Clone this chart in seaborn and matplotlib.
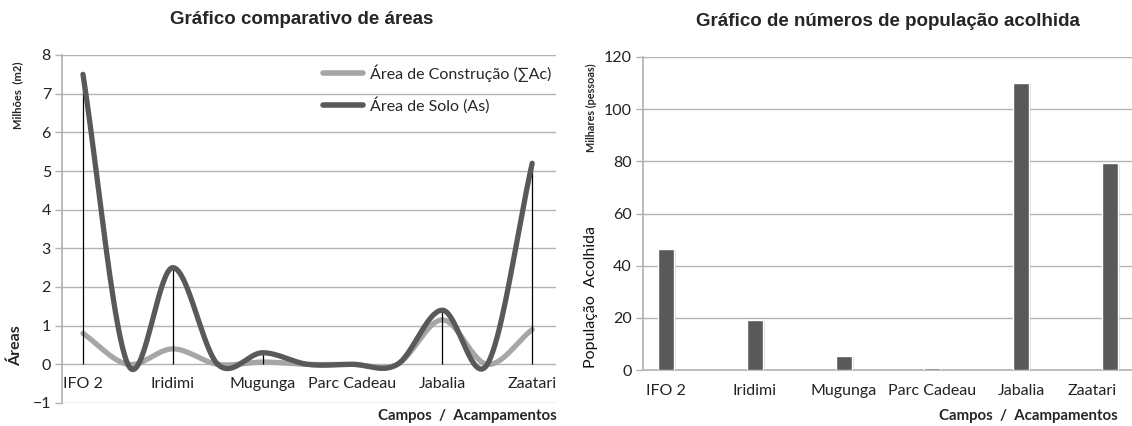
"""Gráficos comparativos: áreas dos campos e população acolhida."""

import numpy as np
import pandas as pd
import matplotlib
matplotlib.use("Agg")
import matplotlib.pyplot as plt
import matplotlib.patheffects as pe
import matplotlib.transforms as mtransforms
import seaborn as sns

# --- dados ---
# pontos da curva de áreas (os rótulos vazios são pontos intermédios a zero)
campos_pts = ["IFO 2", "", "Iridimi", "", "Mugunga", "", "Parc Cadeau", "", "Jabalia", "", "Zaatari"]
area_construcao = [0.8, 0.0, 0.4, 0.0, 0.06, 0.0, 0.0, 0.0, 1.15, 0.0, 0.9]
area_solo = [7.5, 0.0, 2.5, 0.0, 0.3, 0.0, 0.0, 0.0, 1.4, 0.0, 5.2]

campos = ["IFO 2", "Iridimi", "Mugunga", "Parc Cadeau", "Jabalia", "Zaatari"]
populacao = [46.5, 19.2, 5.4, 0.6, 110, 79.3]

DARK = "#595959"
LIGHT = "#a6a6a6"
GRID = "#b3b3b3"
TICK_FONT = ["Lato", "DejaVu Sans"]
TITLE_FONT = ["Liberation Sans", "DejaVu Sans"]

sns.set_theme(style="white")
plt.rcParams['font.family'] = TICK_FONT


def smooth(y, n=40):
    # suavização tipo Excel (Catmull-Rom) apenas para desenhar a linha
    y = np.asarray(y, float)
    k = len(y)
    m = np.zeros(k)
    m[1:-1] = (y[2:] - y[:-2]) / 2
    m[0] = y[1] - y[0]
    m[-1] = y[-1] - y[-2]
    xs, ys = [], []
    t = np.linspace(0, 1, n, endpoint=False)
    for i in range(k - 1):
        h00 = 2 * t**3 - 3 * t**2 + 1
        h10 = t**3 - 2 * t**2 + t
        h01 = -2 * t**3 + 3 * t**2
        h11 = t**3 - t**2
        ys.append(h00 * y[i] + h10 * m[i] + h01 * y[i + 1] + h11 * m[i + 1])
        xs.append(i + t)
    xs.append([k - 1])
    ys.append([y[-1]])
    return np.concatenate(xs), np.concatenate(ys)


def style_axis(ax):
    for s in ["top", "right"]:
        ax.spines[s].set_visible(False)
    ax.spines["left"].set_color(GRID)
    ax.yaxis.grid(True, color=GRID, linewidth=1)
    ax.set_axisbelow(True)
    ax.tick_params(axis="y", direction="out", length=5, color=GRID, width=1,
                   labelsize=11.5, labelcolor="#222222", pad=3, left=True)


fig = plt.figure(figsize=(11.32, 4.26), dpi=100)

# ---------------- gráfico 1: áreas ----------------
ax1 = fig.add_axes([62 / 1132, 23 / 426, 494 / 1132, 348 / 426])
style_axis(ax1)
x_idx = np.arange(len(campos_pts))

xc, yc = smooth(area_construcao)
xs, ys = smooth(area_solo)
sns.lineplot(x=xc, y=yc, ax=ax1, color=LIGHT, linewidth=3.8, sort=False,
             label="Área de Construção (∑Ac)", zorder=3, solid_capstyle="round")
drop_top = np.maximum(area_solo, area_construcao)
lab = [i for i, c in enumerate(campos_pts) if c]
ax1.vlines(x_idx[lab], 0, drop_top[lab], color="black", linewidth=0.9, zorder=4)
sns.lineplot(x=xs, y=ys, ax=ax1, color=DARK, linewidth=3.8, sort=False,
             label="Área de Solo (As)", zorder=5, solid_capstyle="round")

ax1.set_ylim(-1, 8)
ax1.set_yticks(range(-1, 9))
ax1.set_xlim(-0.467, 10.53)
ax1.set_xticks(x_idx[lab])
ax1.set_xticklabels([campos_pts[i] for i in lab])
ax1.spines["bottom"].set_position(("data", 0))
ax1.spines["bottom"].set_visible(False)
ax1.tick_params(axis="x", length=0, labelsize=11.5, labelcolor="#222222", pad=9)
ax1.set_xlabel("")
ax1.set_ylabel("")
leg = ax1.legend(loc="upper left", bbox_to_anchor=(0.5, 1.015), frameon=False,
                 fontsize=11.5, handlelength=2.5, labelspacing=0.95, handletextpad=0.4)
for h in leg.get_lines():
    h.set_linewidth(4)
ax1.set_title("Gráfico comparativo de áreas", fontsize=13.5, fontweight="bold",
              family=TITLE_FONT, pad=22, x=0.485)
fig.text(18 / 1132, 1 - 95 / 426, "Milhões  (m2)", rotation=90, fontsize=8,
         fontweight="bold", ha="center", va="center")
fig.text(16 / 1132, 1 - 346 / 426, "Áreas", rotation=90, fontsize=11.5,
         fontweight="bold", ha="center", va="center")
fig.text(557 / 1132, 1 - 416 / 426, "Campos  /  Acampamentos", fontsize=10.8,
         fontweight="bold", ha="right", va="center")

# ---------------- gráfico 2: população ----------------
ax2 = fig.add_axes([643 / 1132, 56 / 426, 489 / 1132, 313 / 426])
style_axis(ax2)
df = pd.DataFrame({"campo": campos, "pop": populacao})
sns.barplot(data=df, x="campo", y="pop", color=DARK, width=0.18, ax=ax2,
            saturation=1, zorder=3)
for p in ax2.patches:
    p.set_path_effects([pe.SimplePatchShadow(offset=(1.5, -1), shadow_rgbFace="#bbbbbb",
                                             alpha=0.5), pe.Normal()])
ax2.set_ylim(0, 120)
ax2.set_yticks(range(0, 121, 20))
ax2.set_xlim(-0.26, 5.25)
ax2.spines["bottom"].set_color(GRID)
ax2.tick_params(axis="x", length=0, labelsize=11.5, labelcolor="#222222", pad=10)
# o último rótulo fica encostado à margem, como no original
last = ax2.get_xticklabels()[-1]
last.set_horizontalalignment("right")
last.set_transform(last.get_transform() +
                   mtransforms.ScaledTranslation(7 / 100, 0, fig.dpi_scale_trans))
ax2.set_xlabel("")
ax2.set_ylabel("")
ax2.set_title("Gráfico de números de população acolhida", fontsize=13.5,
              fontweight="bold", family=TITLE_FONT, pad=22, x=0.5)
fig.text(591 / 1132, 1 - 108 / 426, "Milhares (pessoas)", rotation=90, fontsize=7.8,
         fontweight="bold", ha="center", va="center")
fig.text(591 / 1132, 1 - 297 / 426, "População  Acolhida", rotation=90, fontsize=11.5,
         ha="center", va="center", color="#111111")
fig.text(1118 / 1132, 1 - 416 / 426, "Campos  /  Acampamentos", fontsize=10.8,
         fontweight="bold", ha="right", va="center")

fig.savefig("out.png", dpi=100)
